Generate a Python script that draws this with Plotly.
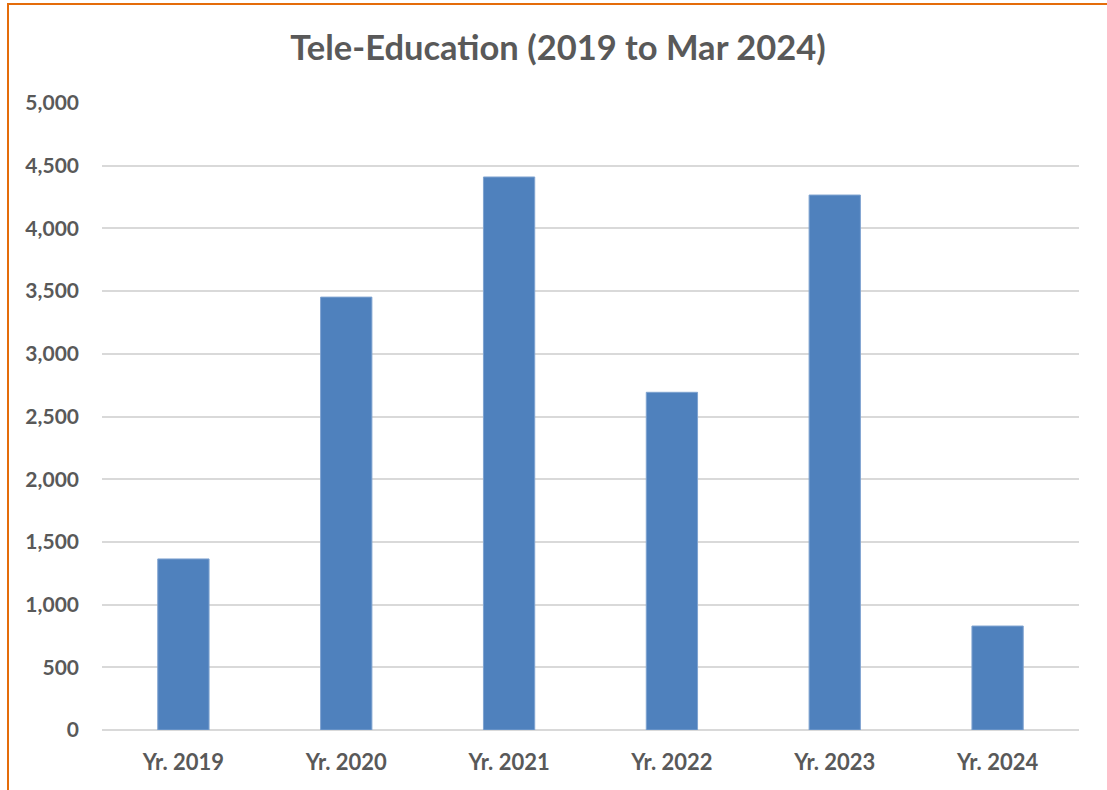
import plotly.graph_objects as go

categories = ["Yr. 2019", "Yr. 2020", "Yr. 2021", "Yr. 2022", "Yr. 2023", "Yr. 2024"]
values = [1364, 3452, 4410, 2693, 4266, 829]
y_ticks = [0, 500, 1000, 1500, 2000, 2500, 3000, 3500, 4000, 4500, 5000]
y_tick_labels = ["0", "500", "1,000", "1,500", "2,000", "2,500", "3,000", "3,500", "4,000", "4,500", "5,000"]
title_text = "Tele-Education (2019 to Mar 2024)"

FONT = "Lato"
GREY = "#595959"

fig = go.Figure(
    go.Bar(
        x=categories,
        y=values,
        marker=dict(color="#4F81BD", line=dict(color="#7FA3D0", width=1)),
        width=0.315,
    )
)

fig.update_layout(
    width=1107,
    height=790,
    margin=dict(l=102, r=28, t=103, b=60),
    paper_bgcolor="white",
    plot_bgcolor="white",
    showlegend=False,
    title=dict(
        text="<b>" + title_text + "</b>",
        x=558 / 1107,
        xanchor="center",
        xref="container",
        y=1 - 48 / 790,
        yanchor="middle",
        yref="container",
        font=dict(family=FONT, size=34.5, color=GREY),
    ),
    xaxis=dict(
        range=[-0.5, 5.5],
        showgrid=False,
        showline=False,
        zeroline=False,
        tickfont=dict(family=FONT, size=22, color=GREY, weight="bold"),
        ticklabelstandoff=17,
    ),
    yaxis=dict(
        range=[0, 5000],
        tickvals=y_ticks,
        ticktext=y_tick_labels,
        showgrid=True,
        gridcolor="#D9D9D9",
        gridwidth=1.5,
        zeroline=True,
        zerolinecolor="#D9D9D9",
        zerolinewidth=1.5,
        showline=False,
        tickfont=dict(family=FONT, size=21, color=GREY, weight="bold"),
        ticklabelstandoff=22,
    ),
    shapes=[
        dict(
            type="rect",
            xref="paper",
            yref="paper",
            x0=(8 - 102) / 977,
            x1=(1130 - 102) / 977,
            y0=(730 - 820) / 627,
            y1=(730 - 4) / 627,
            line=dict(color="#E46C0A", width=2),
            fillcolor="rgba(0,0,0,0)",
            layer="above",
        )
    ],
)

fig.write_html(
    "out.html",
    config={"displayModeBar": False},
    post_script="document.body.style.margin='0';document.body.style.overflow='hidden';",
)
